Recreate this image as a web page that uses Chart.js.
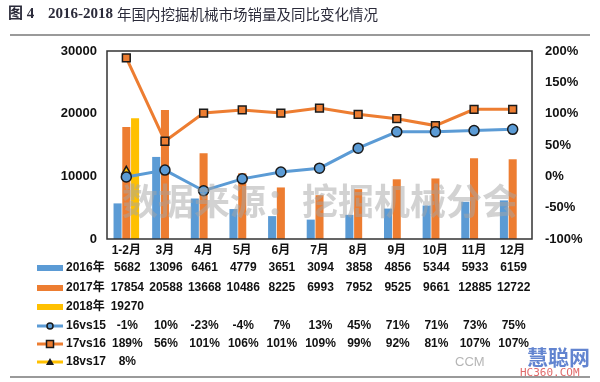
<!DOCTYPE html>
<html>
<head>
<meta charset="utf-8">
<script src="https://cdn.jsdelivr.net/npm/chart.js@4"></script>
<style>
html,body{margin:0;padding:0;background:#fff;}
#wrap{position:relative;width:600px;height:382px;}
canvas{display:block;}
</style>
</head>
<body>
<div id="wrap"><canvas id="c" width="600" height="382"></canvas></div>
<script>
const categories = ['1-2月','3月','4月','5月','6月','7月','8月','9月','10月','11月','12月'];
const sales2016 = [5682,13096,6461,4779,3651,3094,3858,4856,5344,5933,6159];
const sales2017 = [17854,20588,13668,10486,8225,6993,7952,9525,9661,12885,12722];
const sales2018 = [19270];
const yoy16vs15 = [-1,10,-23,-4,7,13,45,71,71,73,75];
const yoy17vs16 = [189,56,101,106,101,109,99,92,81,107,107];
const yoy18vs17 = [8];
const leftTicks = [0,10000,20000,30000];
const rightTicks = [-100,-50,0,50,100,150,200];

const BLUE = '#5B9BD5', ORANGE = '#ED7D31', YELLOW = '#FFC000', DARK = '#1a1a1a';
const FONT = '"Liberation Sans", Arial, "Noto Sans CJK SC", sans-serif';

const tableRows = [
  {label:'2016年', values: sales2016, fmt: v => String(v), icon:'bar', color: BLUE},
  {label:'2017年', values: sales2017, fmt: v => String(v), icon:'bar', color: ORANGE},
  {label:'2018年', values: sales2018, fmt: v => String(v), icon:'bar', color: YELLOW},
  {label:'16vs15', values: yoy16vs15, fmt: v => v + '%', icon:'circle', color: BLUE},
  {label:'17vs16', values: yoy17vs16, fmt: v => v + '%', icon:'rect', color: ORANGE},
  {label:'18vs17', values: yoy18vs17, fmt: v => v + '%', icon:'triangle', color: YELLOW}
];
const rowY = [268, 288, 307, 326, 344, 362];

const decor = {
  id: 'decor',
  afterDatasetsDraw(chart) {
    const ctx = chart.ctx, a = chart.chartArea;
    ctx.save();
    // watermark
    ctx.font = 'bold 36px "Noto Sans CJK SC", sans-serif';
    ctx.fillStyle = 'rgba(165,165,165,0.5)';
    ctx.textAlign = 'left';
    ctx.textBaseline = 'middle';
    ctx.fillText('数据来源：挖掘机械分会', 122, 201);
    // frame
    ctx.strokeStyle = '#333';
    ctx.lineWidth = 1.5;
    ctx.strokeRect(a.left, a.top, a.right - a.left, a.bottom - a.top);
    ctx.restore();
  },
  afterDraw(chart) {
    const ctx = chart.ctx, x = chart.scales.x;
    ctx.save();
    // title
    ctx.fillStyle = '#2b2b3a';
    ctx.textBaseline = 'middle';
    ctx.textAlign = 'left';
    ctx.font = 'bold 15px "Liberation Serif", "Noto Sans CJK SC", serif';
    ctx.fillText('图 4', 8, 14);
    ctx.fillText('2016-2018', 48, 14);
    ctx.font = '14.5px "Noto Sans CJK SC", sans-serif';
    ctx.fillText('年国内挖掘机械市场销量及同比变化情况', 117, 14);
    // rules
    ctx.strokeStyle = '#9a9a9a';
    ctx.lineWidth = 2;
    ctx.beginPath(); ctx.moveTo(10, 35); ctx.lineTo(590, 35); ctx.stroke();
    ctx.beginPath(); ctx.moveTo(10, 377); ctx.lineTo(590, 377); ctx.stroke();
    // data table
    tableRows.forEach((r, ri) => {
      const y = rowY[ri];
      if (r.icon === 'bar') {
        ctx.fillStyle = r.color;
        ctx.fillRect(37, y - 3, 26, 6);
      } else {
        ctx.strokeStyle = r.color;
        ctx.lineWidth = 3;
        ctx.beginPath(); ctx.moveTo(37, y); ctx.lineTo(63, y); ctx.stroke();
        ctx.lineWidth = 1.5;
        ctx.strokeStyle = DARK;
        if (r.icon === 'circle') {
          ctx.fillStyle = r.color;
          ctx.beginPath(); ctx.arc(50, y, 3, 0, Math.PI * 2); ctx.fill(); ctx.stroke();
        } else if (r.icon === 'rect') {
          ctx.fillStyle = r.color;
          ctx.fillRect(46.5, y - 3.5, 7, 7); ctx.strokeRect(46.5, y - 3.5, 7, 7);
        } else {
          ctx.fillStyle = DARK;
          ctx.beginPath(); ctx.moveTo(50, y - 4); ctx.lineTo(54, y + 3); ctx.lineTo(46, y + 3); ctx.closePath(); ctx.fill();
        }
      }
      ctx.fillStyle = '#111';
      ctx.font = 'bold 12px ' + FONT;
      ctx.textAlign = 'left';
      ctx.fillText(r.label, 66, y);
      ctx.textAlign = 'center';
      ctx.font = 'bold 12px ' + FONT;
      r.values.forEach((v, i) => {
        ctx.fillText(r.fmt(v), x.getPixelForValue(i) + 1, y);
      });
    });
    // logo text
    ctx.textAlign = 'left';
    ctx.font = '13px "Liberation Sans", sans-serif';
    ctx.fillStyle = 'rgba(150,150,150,0.7)';
    ctx.fillText('CCM', 455, 362);
    ctx.font = 'bold 21px "Noto Sans CJK SC", sans-serif';
    ctx.fillStyle = 'rgba(70,110,200,0.85)';
    ctx.fillText('慧聪网', 527, 357);
    ctx.font = '11px "DejaVu Sans Mono", monospace';
    ctx.fillStyle = 'rgba(220,80,80,0.85)';
    ctx.fillText('HC360.COM', 520, 373);
    ctx.restore();
  }
};

new Chart(document.getElementById('c'), {
  data: {
    labels: categories,
    datasets: [
      {type:'line', label:'16vs15', data: yoy16vs15, yAxisID:'y1', order:0,
        borderColor: BLUE, borderWidth: 3, pointStyle:'circle', pointRadius: 5,
        pointBackgroundColor: BLUE, pointBorderColor: DARK, pointBorderWidth: 1.5, tension: 0},
      {type:'line', label:'17vs16', data: yoy17vs16, yAxisID:'y1', order:0,
        borderColor: ORANGE, borderWidth: 3, pointStyle:'rect', pointRadius: 5.5,
        pointBackgroundColor: ORANGE, pointBorderColor: DARK, pointBorderWidth: 1.5, tension: 0},
      {type:'line', label:'18vs17', data: yoy18vs17, yAxisID:'y1', order:0,
        borderColor: YELLOW, borderWidth: 3, pointStyle:'triangle', pointRadius: 5,
        pointBackgroundColor: YELLOW, pointBorderColor: DARK, pointBorderWidth: 1.5},
      {type:'bar', label:'2016年', data: sales2016, yAxisID:'y', order:1, backgroundColor: BLUE,
        categoryPercentage: 0.68, barPercentage: 0.92},
      {type:'bar', label:'2017年', data: sales2017, yAxisID:'y', order:1, backgroundColor: ORANGE,
        categoryPercentage: 0.68, barPercentage: 0.92},
      {type:'bar', label:'2018年', data: sales2018, yAxisID:'y', order:1, backgroundColor: YELLOW,
        categoryPercentage: 0.68, barPercentage: 0.92}
    ]
  },
  options: {
    responsive: false,
    animation: false,
    layout: {padding: {top: 51, left: 0, right: 0, bottom: 0}},
    plugins: {legend: {display: false}, tooltip: {enabled: false}},
    scales: {
      x: {
        grid: {display: false, drawTicks: false}, border: {display: false},
        ticks: {padding: 4, color: '#111', font: {family: FONT, size: 12, weight: 'bold'}},
        afterFit: s => { s.height = 143; }
      },
      y: {
        position: 'left', min: 0, max: 30000,
        afterBuildTicks: s => { s.ticks = leftTicks.map(v => ({value: v})); },
        grid: {display: false, drawTicks: false}, border: {display: false},
        ticks: {padding: 10, color: '#111', font: {family: FONT, size: 13, weight: 'bold'}, callback: v => String(v)},
        afterFit: s => { s.width = 107; }
      },
      y1: {
        position: 'right', min: -100, max: 200,
        afterBuildTicks: s => { s.ticks = rightTicks.map(v => ({value: v})); },
        grid: {display: false, drawTicks: false}, border: {display: false},
        ticks: {padding: 13, color: '#111', font: {family: FONT, size: 13, weight: 'bold'}, callback: v => v + '%'},
        afterFit: s => { s.width = 68; }
      }
    }
  },
  plugins: [decor]
});
</script>
</body>
</html>
